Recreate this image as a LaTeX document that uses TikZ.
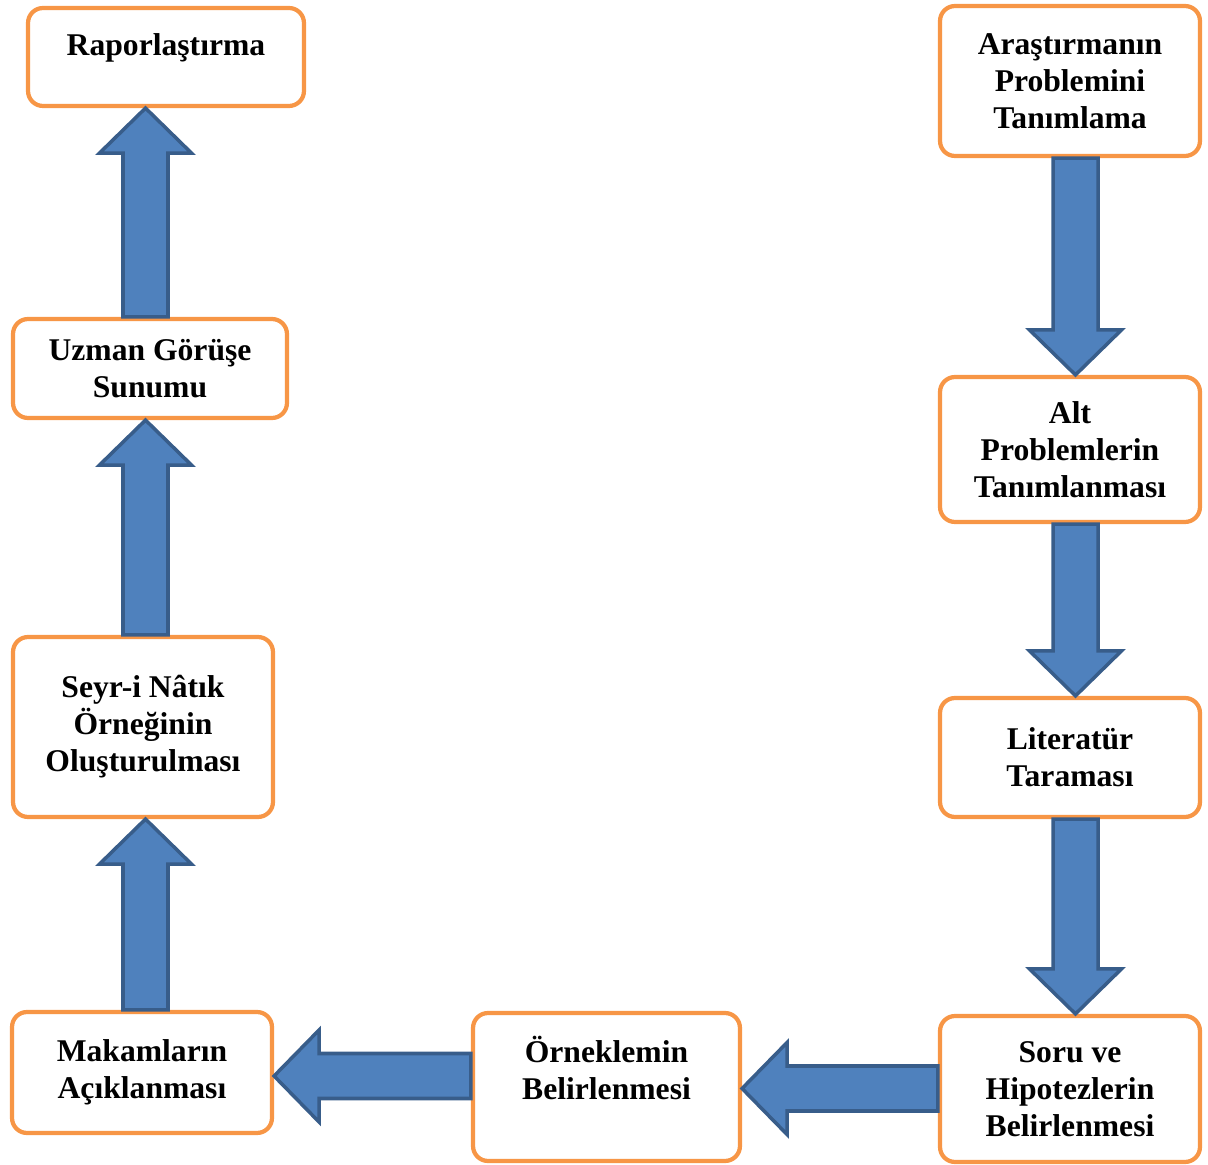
\documentclass[tikz,border=0pt]{standalone}
\usepackage{fontspec}
\setmainfont{Liberation Serif}
\usetikzlibrary{calc}

\definecolor{boxorange}{HTML}{F79646}
\definecolor{arrowfill}{HTML}{4F81BD}
\definecolor{arrowline}{HTML}{385D8A}

% block arrows, #1 = start of shaft, #2 = tip
\newcommand{\upblock}[2]{%
  \draw[blockarrow] ($(#1)+(-22.5,0)$) -- ($(#2)+(-22.5,45)$) -- ($(#2)+(-46,45)$) -- (#2)
    -- ($(#2)+(46,45)$) -- ($(#2)+(22.5,45)$) -- ($(#1)+(22.5,0)$) -- cycle;}
\newcommand{\downblock}[2]{%
  \draw[blockarrow] ($(#1)+(-22.5,0)$) -- ($(#2)+(-22.5,-45)$) -- ($(#2)+(-46,-45)$) -- (#2)
    -- ($(#2)+(46,-45)$) -- ($(#2)+(22.5,-45)$) -- ($(#1)+(22.5,0)$) -- cycle;}
\newcommand{\leftblock}[2]{%
  \draw[blockarrow] ($(#1)+(0,-22.5)$) -- ($(#2)+(45,-22.5)$) -- ($(#2)+(45,-46)$) -- (#2)
    -- ($(#2)+(45,46)$) -- ($(#2)+(45,22.5)$) -- ($(#1)+(0,22.5)$) -- cycle;}

\begin{document}
\begin{tikzpicture}
        [x=0.02cm, y=-0.02cm,
        box/.style={rectangle, rounded corners=0.3cm, draw=boxorange, fill=white, line width=2.4pt,
          align=center, inner sep=2pt, font=\fontsize{18}{21}\selectfont\bfseries},
        blockarrow/.style={fill=arrowfill, draw=arrowline, line width=2pt, line join=miter}]

        \useasboundingbox (0,0) rectangle (1208,1165);

        % left column
        \node[box, minimum width=5.52cm, minimum height=1.96cm, text depth=0.5cm] (rapor) at (166,57) {Raporlaştırma};
        \node[box, minimum width=5.48cm, minimum height=1.98cm] (uzman) at (150,368.5) {Uzman Görüşe\\Sunumu};
        \node[box, minimum width=5.2cm, minimum height=3.6cm] (seyr) at (143,727) {Seyr-i Nâtık\\Örneğinin\\Oluşturulması};
        \node[box, minimum width=5.2cm, minimum height=2.42cm] (makam) at (142,1072.5) {Makamların\\Açıklanması};

        % bottom row
        \node[box, minimum width=5.34cm, minimum height=2.96cm, text depth=0.75cm] (orn) at (606.5,1087) {Örneklemin\\Belirlenmesi};

        % right column
        \node[box, minimum width=5.2cm, minimum height=3cm] (aras) at (1070,81) {Araştırmanın\\Problemini\\Tanımlama};
        \node[box, minimum width=5.2cm, minimum height=2.9cm] (alt) at (1070,449.5) {Alt\\Problemlerin\\Tanımlanması};
        \node[box, minimum width=5.2cm, minimum height=2.38cm] (lit) at (1070,757.5) {Literatür\\Taraması};
        \node[box, minimum width=5.2cm, minimum height=2.92cm] (soru) at (1070,1089) {Soru ve\\Hipotezlerin\\Belirlenmesi};

        % arrow lines
        \coordinate (lcol) at (145.5,0);
        \coordinate (rcol) at (1075.5,0);
        \coordinate (brow1) at (0,1076);
        \coordinate (brow2) at (0,1088.5);

        % right column, going down
        \downblock{rcol |- aras.south}{rcol |- alt.north}
        \downblock{rcol |- alt.south}{rcol |- lit.north}
        \downblock{rcol |- lit.south}{rcol |- soru.north}

        % bottom row, going left
        \leftblock{soru.west |- brow2}{orn.east |- brow2}
        \leftblock{orn.west |- brow1}{makam.east |- brow1}

        % left column, going up
        \upblock{lcol |- makam.north}{lcol |- seyr.south}
        \upblock{lcol |- seyr.north}{lcol |- uzman.south}
        \upblock{lcol |- uzman.north}{lcol |- rapor.south}

    \end{tikzpicture}
\end{document}
